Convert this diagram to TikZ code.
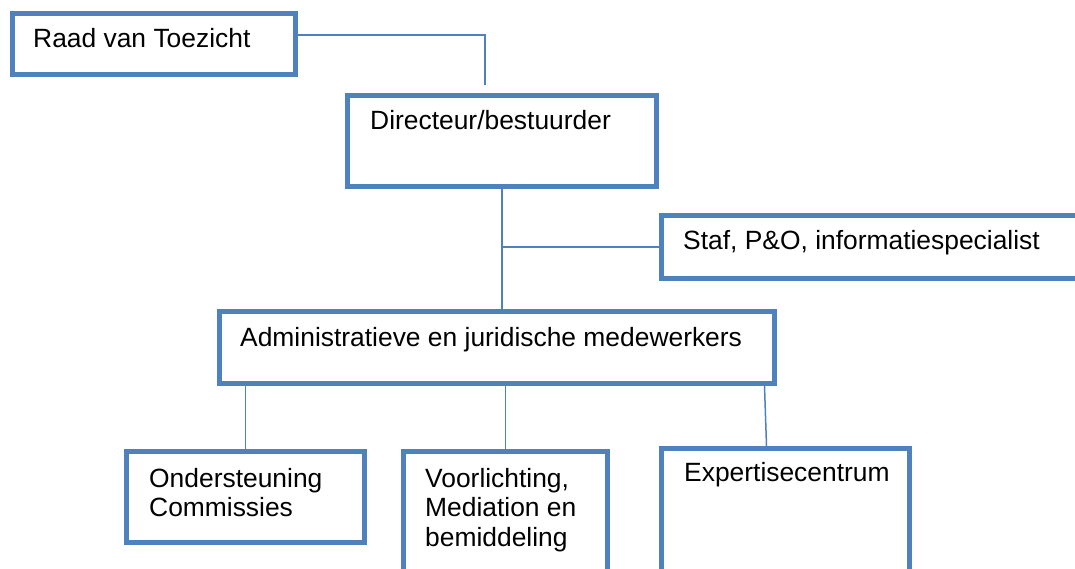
\documentclass[tikz,border=0pt]{standalone}
\usepackage{fontspec}
\setmainfont{Liberation Sans}
\usepackage{tikz}
\definecolor{orgblue}{HTML}{4F81BD}
\newcommand{\orgfont}{\fontsize{26.4}{29.5}\selectfont}

\begin{document}
\begin{tikzpicture}[x=1pt, y=-1pt,
    box/.style={rectangle, draw=orgblue, line width=5pt, anchor=north west, inner sep=0pt},
    txt/.style={anchor=base west, inner sep=0pt, align=left, font=\orgfont},
    link/.style={draw=orgblue, line width=1.5pt}]
    \clip (0,0) rectangle (1075,569);

    % Boxes {raad, dir, staf, admin, ond, voor, exp}
    \node [box, minimum width=283pt, minimum height=61pt]  (raad)  at (10,11)   {};
    \node [box, minimum width=309pt, minimum height=91pt]  (dir)   at (345,93)  {};
    \node [box, minimum width=440pt, minimum height=63pt]  (staf)  at (659,213) {};
    \node [box, minimum width=555pt, minimum height=72pt]  (admin) at (217,309) {};
    \node [box, minimum width=238pt, minimum height=91pt]  (ond)   at (124,449) {};
    \node [box, minimum width=204pt, minimum height=150pt] (voor)  at (401,449) {};
    \node [box, minimum width=248pt, minimum height=150pt] (exp)   at (659,446) {};

    % Texts (base = last line)
    \node [txt] (raadtxt)  at ([xshift=23pt,yshift=-37pt]raad.north west)  {Raad van Toezicht};
    \node [txt] (dirtxt)   at ([xshift=25pt,yshift=-37pt]dir.north west)   {Directeur/bestuurder};
    \node [txt] (staftxt)  at ([xshift=24pt,yshift=-37pt]staf.north west)  {Staf, P\&O, informatiespecialist};
    \node [txt] (admintxt) at ([xshift=23pt,yshift=-37pt]admin.north west) {Administratieve en juridische medewerkers};
    \node [txt] (ondtxt)   at ([xshift=25pt,yshift=-67.5pt]ond.north west) {Ondersteuning\\Commissies};
    \node [txt] (voortxt)  at ([xshift=24pt,yshift=-97pt]voor.north west)  {Voorlichting,\\Mediation en\\bemiddeling};
    \node [txt] (exptxt)   at ([xshift=25pt,yshift=-35pt]exp.north west)   {Expertisecentrum};

    % Connectors
    \coordinate (raadend) at (485,85);
    \draw [link] ([yshift=9pt]raad.east) -| (raadend);
    \draw [link] (dir.south) -- (dir.south |- admin.north);
    \draw [link] (staf.west) -- (staf.west -| dir.south);
    \draw [link] (ond.north) -- (ond.north |- admin.south);
    \draw [link] (voor.north) -- (voor.north |- admin.south);
    \draw [link] ([xshift=-19pt]exp.north) -- ([xshift=-21pt]exp.north |- admin.south);
\end{tikzpicture}
\end{document}
